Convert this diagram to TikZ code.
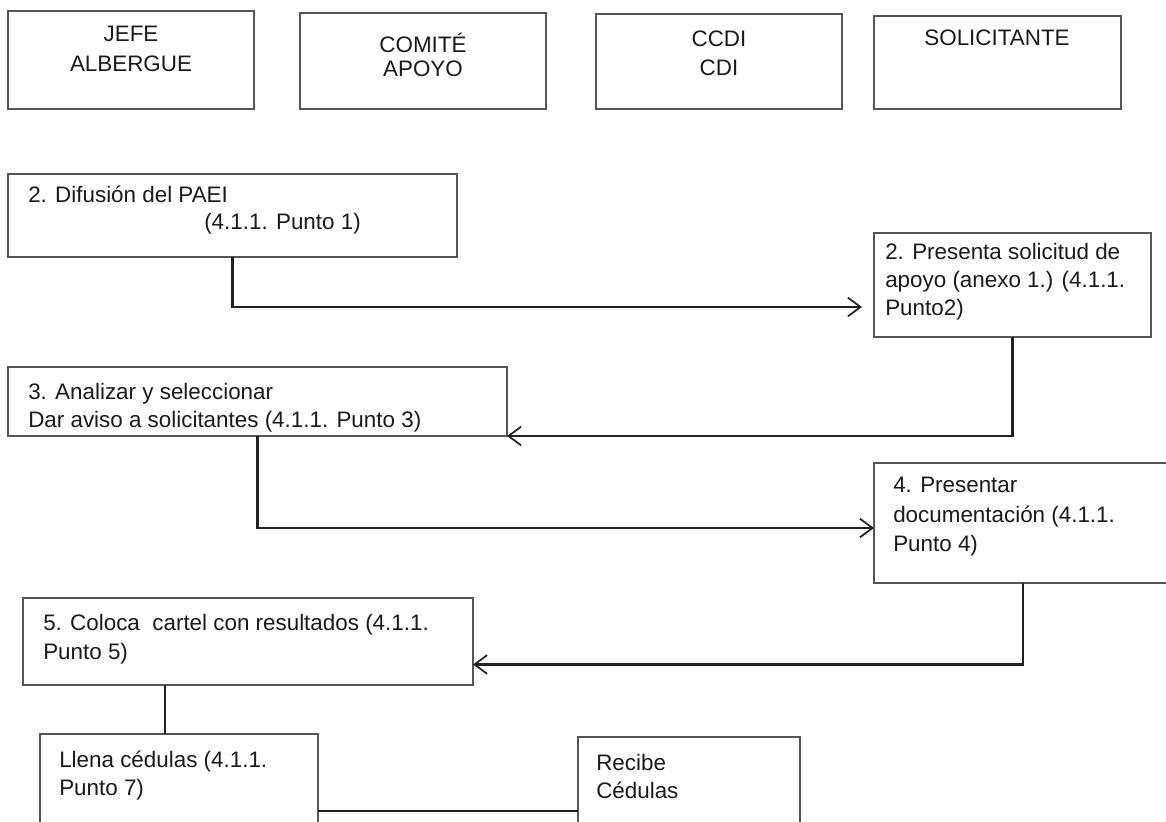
\documentclass[tikz,border=0pt]{standalone}
\usepackage{fontspec}
\setmainfont{Liberation Sans}
\usetikzlibrary{arrows.meta,calc}
\definecolor{boxc}{HTML}{555555}
\definecolor{linec}{HTML}{222222}
\definecolor{txtc}{HTML}{1A1A1A}
\newcommand\pbox[5]{\node[box, minimum width={(#4-#2)*0.75pt}, minimum height={(#5-#3)*0.75pt}] (#1) at (#2,#3) {};}
\begin{document}
\begin{tikzpicture}[x=0.75pt,y=-0.75pt,
  box/.style={draw=boxc, line width=1.1pt, inner sep=0pt, outer sep=0pt, anchor=north west},
  conn/.style={draw=linec, line width=1.8pt},
  arr/.style={conn, -{Straight Barb[length=9.5pt,width=14pt,line width=1.3pt]}},
  txt/.style={anchor=base west, inner sep=0pt, text=txtc, font=\fontsize{16.8pt}{20pt}\selectfont},
  ctxt/.style={txt, anchor=base}]
\fill[white] (0,0) rectangle (1166,821);
\useasboundingbox (0,0) rectangle (1166,821);
\clip (0,0) rectangle (1166,821);
% header boxes
\pbox{jefe}{8}{11}{254}{109}
\pbox{comite}{300}{13}{546}{109}
\pbox{ccdi}{596}{14}{842}{109}
\pbox{solic}{874}{16}{1121}{109}
\node[ctxt] (jefeA) at (131,41) {JEFE};
\node[ctxt] (jefeB) at (131,71) {ALBERGUE};
\node[ctxt] (comA) at (423,52) {COMITÉ};
\node[ctxt] (comB) at (423,76) {APOYO};
\node[ctxt] (ccdiA) at (719,46) {CCDI};
\node[ctxt] (ccdiB) at (719,75) {CDI};
\node[ctxt] (solA) at (997,45) {SOLICITANTE};
% process boxes
\pbox{difu}{8}{174}{457}{257}
\pbox{pres}{874}{233}{1151}{337}
\pbox{anal}{8}{367}{507}{436}
\pbox{docu}{874}{463}{1172}{583}
\pbox{cartel}{23}{598}{473}{685}
\pbox{llena}{40}{734}{318}{840}
\pbox{recibe}{578}{737}{800}{840}
% texts
\node[txt] (difuA) at (28,202) {2. Difusión del PAEI};
\node[txt] (difuB) at (204,229) {(4.1.1. Punto 1)};
\node[txt] (presA) at (885,259) {2. Presenta solicitud de};
\node[txt] (presB) at (885,287) {apoyo (anexo 1.) (4.1.1.};
\node[txt] (presC) at (885,315) {Punto2)};
\node[txt] (analA) at (28,399) {3. Analizar y seleccionar};
\node[txt] (analB) at (28,427) {Dar aviso a solicitantes (4.1.1. Punto 3)};
\node[txt] (docuA) at (893,492) {4. Presentar};
\node[txt] (docuB) at (893,522) {documentación (4.1.1.};
\node[txt] (docuC) at (893,551) {Punto 4)};
\node[txt] (cartA) at (43,630) {5. Coloca\ \ cartel con resultados (4.1.1.};
\node[txt] (cartB) at (43,659) {Punto 5)};
\node[txt] (llenA) at (59,767) {Llena cédulas (4.1.1.};
\node[txt] (llenB) at (59,795) {Punto 7)};
\node[txt] (recA) at (596,770) {Recibe};
\node[txt] (recB) at (596,798) {Cédulas};
% connectors
\coordinate (presIn) at ($(pres.west)+(-12,22)$);
\draw[arr] (difu.south) |- (presIn);
\draw[arr] (pres.south) |- (anal.south east);
\draw[arr] (anal.south) |- ($(docu.west)+(0,5)$);
\draw[arr] (docu.south) |- ($(cartel.east)+(0,23)$);
\draw[conn] ($(cartel.south west)+(142,0)$) -- ($(llena.north west)+(125,0)$);
\draw[conn] ($(llena.north east)+(0,77)$) -- ($(recibe.north west)+(0,74)$);
\end{tikzpicture}
\end{document}
